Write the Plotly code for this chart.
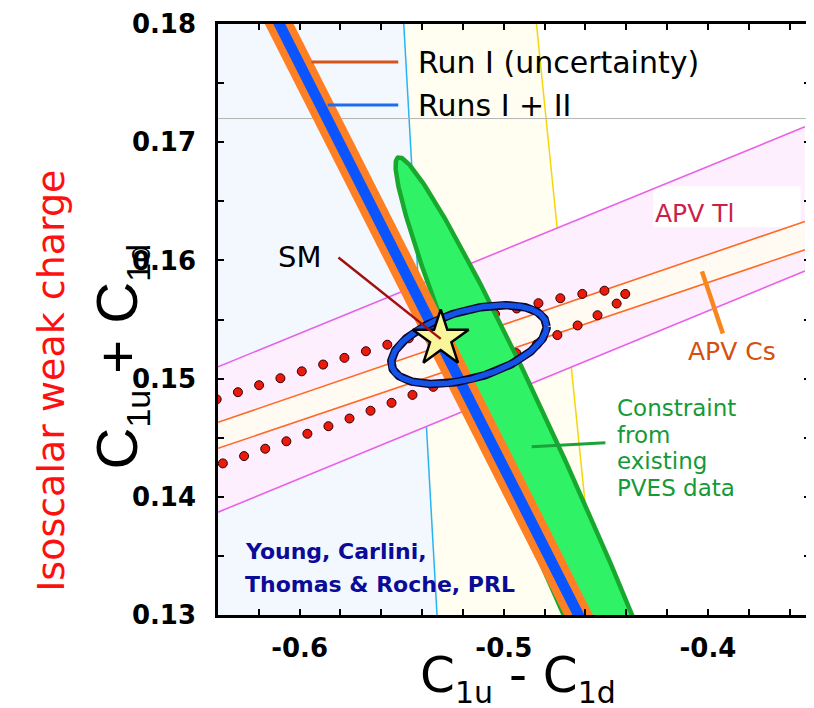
import numpy as np
import plotly.graph_objects as go

# ---------------- axes ----------------
x_range = [-0.64, -0.35]
y_range = [0.13, 0.18]
x_tick_vals = [-0.64, -0.62, -0.60, -0.58, -0.56, -0.54, -0.52, -0.50,
               -0.48, -0.46, -0.44, -0.42, -0.40, -0.38, -0.36]
x_tick_text = ["", "", "-0.6", "", "", "", "", "-0.5", "", "", "", "", "-0.4", "", ""]
y_tick_vals = [0.13, 0.135, 0.14, 0.145, 0.15, 0.155, 0.16, 0.165, 0.17, 0.175, 0.18]
y_tick_text = ["0.13", "", "0.14", "", "0.15", "", "0.16", "", "0.17", "", "0.18"]

# ---------------- background regions (x at top y=0.18 and bottom y=0.13) ----------------
boundary_y = [0.18, 0.13]
cyan_boundary_x = [-0.549, -0.5327]
yellow_boundary_x = [-0.484, -0.4546]
ref_line_y = 0.172

# ---------------- APV bands (y at left / right ends) ----------------
apv_x = [-0.64, -0.3525]
apv_tl_upper = [0.1510, 0.1713]
apv_tl_lower = [0.1387, 0.1591]
apv_cs_upper = [0.1463, 0.1633]
apv_cs_lower = [0.1441, 0.1609]

# ---------------- Qweak run bands ----------------
run_band_y = [0.18, 0.13]
run_band_center_x = [-0.6100, -0.4634]
run1_half_width = 0.00707
run12_half_width = 0.00293

# ---------------- ellipses: centre, conjugate half-axes ----------------
pves_center = [-0.47024, 0.136525]
pves_u = [0.08098, -0.0322]
pves_v = [0.01717, 0.0]

combined_center = [-0.51707, 0.15288]
combined_u = [0.03805, 0.001525]
combined_v = [0.0, 0.002966]

apv_pves_center = [-0.6454, 0.14517]
apv_pves_u = [0.2049, 0.01199]
apv_pves_v = [0.0, 0.0028]

# ---------------- Standard Model point ----------------
sm_x = [-0.5309]
sm_y = [0.15336]

# ---------------- layout geometry (page has an 8px body margin) ----------------
OFF = 8
W, H = 806, 700
ML, MR, MT, MB = 210, 1, 16, 93
plot_w = W - ML - MR
plot_h = H - MT - MB
sx = plot_w / (x_range[1] - x_range[0])
sy = plot_h / (y_range[1] - y_range[0])

FONT = "DejaVu Sans"
SANS = "Liberation Sans"


def page_to_paper(px, py):
    return (px - OFF - ML) / plot_w, (H - MB - (py - OFF)) / plot_h


def ellipse(c, u, v, n=400):
    t = np.linspace(0, 2 * np.pi, n)
    return (c[0] + u[0] * np.cos(t) + v[0] * np.sin(t),
            c[1] + u[1] * np.cos(t) + v[1] * np.sin(t))


def dotted_ellipse(c, u, v, spacing_px=22.5):
    t = np.linspace(0, 2 * np.pi, 20000)
    x = c[0] + u[0] * np.cos(t) + v[0] * np.sin(t)
    y = c[1] + u[1] * np.cos(t) + v[1] * np.sin(t)
    seg = np.hypot(np.diff(x) * sx, np.diff(y) * sy)
    s = np.concatenate([[0], np.cumsum(seg)])
    targets = np.arange(0, s[-1] - spacing_px / 2, spacing_px)
    idx = np.searchsorted(s, targets)
    return x[idx], y[idx]


fig = go.Figure()

# background regions
fig.add_trace(go.Scatter(
    x=[x_range[0], cyan_boundary_x[0], cyan_boundary_x[1], x_range[0]],
    y=[boundary_y[0], boundary_y[0], boundary_y[1], boundary_y[1]],
    fill="toself", fillcolor="#f3f8fe", line=dict(width=0), mode="lines", hoverinfo="skip"))
fig.add_trace(go.Scatter(
    x=[cyan_boundary_x[0], yellow_boundary_x[0], yellow_boundary_x[1], cyan_boundary_x[1]],
    y=[boundary_y[0], boundary_y[0], boundary_y[1], boundary_y[1]],
    fill="toself", fillcolor="#fffef0", line=dict(width=0), mode="lines", hoverinfo="skip"))
fig.add_trace(go.Scatter(x=cyan_boundary_x, y=boundary_y, mode="lines",
                         line=dict(color="#28b4f0", width=1.5), hoverinfo="skip"))
fig.add_trace(go.Scatter(x=yellow_boundary_x, y=boundary_y, mode="lines",
                         line=dict(color="#f5d60a", width=1.5), hoverinfo="skip"))
fig.add_trace(go.Scatter(x=x_range, y=[ref_line_y, ref_line_y], mode="lines",
                         line=dict(color="#b4b4b4", width=1), hoverinfo="skip"))

# APV Tl band
fig.add_trace(go.Scatter(
    x=apv_x + apv_x[::-1], y=apv_tl_upper + apv_tl_lower[::-1],
    fill="toself", fillcolor="#fdeffd", line=dict(width=0), mode="lines", hoverinfo="skip"))
# APV Cs band
fig.add_trace(go.Scatter(
    x=apv_x + apv_x[::-1], y=apv_cs_upper + apv_cs_lower[::-1],
    fill="toself", fillcolor="#fffaf2", line=dict(width=0), mode="lines", hoverinfo="skip"))

# white box behind APV Tl label
box_x = [-0.4268, -0.3546]
box_y = [0.1628, 0.16627]
fig.add_trace(go.Scatter(
    x=[box_x[0], box_x[1], box_x[1], box_x[0]], y=[box_y[0], box_y[0], box_y[1], box_y[1]],
    fill="toself", fillcolor="white", line=dict(width=0), mode="lines", hoverinfo="skip"))

for yy in (apv_tl_upper, apv_tl_lower):
    fig.add_trace(go.Scatter(x=apv_x, y=yy, mode="lines",
                             line=dict(color="#e862e8", width=1.6), hoverinfo="skip"))
for yy in (apv_cs_upper, apv_cs_lower):
    fig.add_trace(go.Scatter(x=apv_x, y=yy, mode="lines",
                             line=dict(color="#ff6a24", width=1.6), hoverinfo="skip"))

# dotted APV+PVES contour
dx, dy = dotted_ellipse(apv_pves_center, apv_pves_u, apv_pves_v)
fig.add_trace(go.Scatter(x=dx, y=dy, mode="markers",
                         marker=dict(size=9, color="#ea1a0c", line=dict(color="#300000", width=1)),
                         hoverinfo="skip"))

# green PVES ellipse
gx, gy = ellipse(pves_center, pves_u, pves_v)
fig.add_trace(go.Scatter(x=gx, y=gy, fill="toself", fillcolor="#30f266", mode="lines",
                         line=dict(color="#19a82e", width=4.5), hoverinfo="skip"))

# run bands
cx0, cx1 = run_band_center_x
fig.add_trace(go.Scatter(
    x=[cx0 - run1_half_width, cx0 + run1_half_width, cx1 + run1_half_width, cx1 - run1_half_width],
    y=[run_band_y[0], run_band_y[0], run_band_y[1], run_band_y[1]],
    fill="toself", fillcolor="#ff8024", line=dict(width=0), mode="lines", hoverinfo="skip"))
fig.add_trace(go.Scatter(
    x=[cx0 - run12_half_width, cx0 + run12_half_width, cx1 + run12_half_width, cx1 - run12_half_width],
    y=[run_band_y[0], run_band_y[0], run_band_y[1], run_band_y[1]],
    fill="toself", fillcolor="#0a55ff", line=dict(width=0), mode="lines", hoverinfo="skip"))

# blue combined ellipse
bx, by = ellipse(combined_center, combined_u, combined_v)
fig.add_trace(go.Scatter(x=bx, y=by, mode="lines", line=dict(color="#0a0a30", width=8.5), hoverinfo="skip"))
fig.add_trace(go.Scatter(x=bx, y=by, mode="lines", line=dict(color="#1553e8", width=5.5), hoverinfo="skip"))

# SM star and pointer
fig.add_trace(go.Scatter(x=sm_x, y=sm_y, mode="markers",
                         marker=dict(symbol="star", size=42, color="#f9f59b",
                                     line=dict(color="black", width=2.5)), hoverinfo="skip"))
sm_label_x, sm_label_y = -0.6000, 0.16025
fig.add_trace(go.Scatter(x=[-0.5810, sm_x[0]], y=[sm_label_y, sm_y[0]], mode="lines",
                         line=dict(color="#a01010", width=2.5), hoverinfo="skip"))

# pointers
fig.add_trace(go.Scatter(x=[-0.40293, -0.39268], y=[0.15907, 0.15381], mode="lines",
                         line=dict(color="#f7861e", width=4.5), hoverinfo="skip"))
fig.add_trace(go.Scatter(x=[-0.48634, -0.45024], y=[0.14424, 0.14458], mode="lines",
                         line=dict(color="#1aa33a", width=3), hoverinfo="skip"))

# legend lines
legend_y = [0.17678, 0.17314]
fig.add_trace(go.Scatter(x=[-0.5942, -0.5517], y=[legend_y[0], legend_y[0]], mode="lines",
                         line=dict(color="#d4541a", width=3), hoverinfo="skip"))
fig.add_trace(go.Scatter(x=[-0.5863, -0.5517], y=[legend_y[1], legend_y[1]], mode="lines",
                         line=dict(color="#1e6cf0", width=3), hoverinfo="skip"))

ann = []


def add_text(text, x, y, size, color, xanchor="left", bold=False, xref="x", yref="y", angle=0, family=FONT):
    ann.append(dict(text=text, x=x, y=y, xref=xref, yref=yref, showarrow=False,
                    xanchor=xanchor, yanchor="middle", textangle=angle,
                    font=dict(family=family, size=size, color=color,
                              weight="bold" if bold else "normal")))


def sub(s, px):
    return '<sub><span style="font-size:%dpx">%s</span></sub>' % (px, s)


add_text("Run I (uncertainty)", -0.5429, legend_y[0], 30, "black")
add_text("Runs I + II", -0.5429, legend_y[1], 30, "black")
add_text("SM", sm_label_x, sm_label_y, 29, "black", xanchor="center")
add_text("APV Tl", -0.4068, 0.1640, 25, "#cc1f4a", xanchor="center")
add_text("APV Cs", -0.3883, 0.15229, 25, "#d4500f", xanchor="center")
for txt, yy in zip(["Constraint", "from", "existing", "PVES data"],
                   [0.14754, 0.14525, 0.14300, 0.14076]):
    add_text(txt, -0.4454, yy, 23, "#149a38")
add_text("Young, Carlini,", -0.6278, 0.13534, 22, "#0b0b99", bold=True)
add_text("Thomas &amp; Roche, PRL", -0.6278, 0.13254, 22, "#0b0b99", bold=True)

# axis titles
px_, py_ = page_to_paper(520, 678)
add_text("C" + sub("1u", 30) + " - C" + sub("1d", 30), px_, py_, 50, "black",
         xanchor="center", xref="paper", yref="paper")
px_, py_ = page_to_paper(120, 356)
add_text("C" + sub("1u", 34) + " + C" + sub("1d", 34), px_, py_, 58, "black", xanchor="center",
         xref="paper", yref="paper", angle=-90, family=SANS)
px_, py_ = page_to_paper(50, 381)
add_text("Isoscalar weak charge", px_, py_, 38, "#ff1010", xanchor="center",
         xref="paper", yref="paper", angle=-90)

axis_common = dict(showgrid=False, zeroline=False, showline=True, linecolor="black", linewidth=2.5,
                   mirror="ticks", ticks="inside", ticklen=6, tickwidth=1.5, tickcolor="black",
                   tickmode="array",
                   tickfont=dict(family=FONT, size=26, color="black", weight="bold"))

fig.update_xaxes(range=x_range, tickvals=x_tick_vals, ticktext=x_tick_text,
                 ticklabelstandoff=8, **axis_common)
fig.update_yaxes(range=y_range, tickvals=y_tick_vals, ticktext=y_tick_text,
                 ticklabelstandoff=14, **axis_common)

fig.update_layout(width=W, height=H, margin=dict(l=ML, r=MR, t=MT, b=MB),
                  plot_bgcolor="white", paper_bgcolor="white", showlegend=False,
                  annotations=ann)

fig.write_html("out.html")
